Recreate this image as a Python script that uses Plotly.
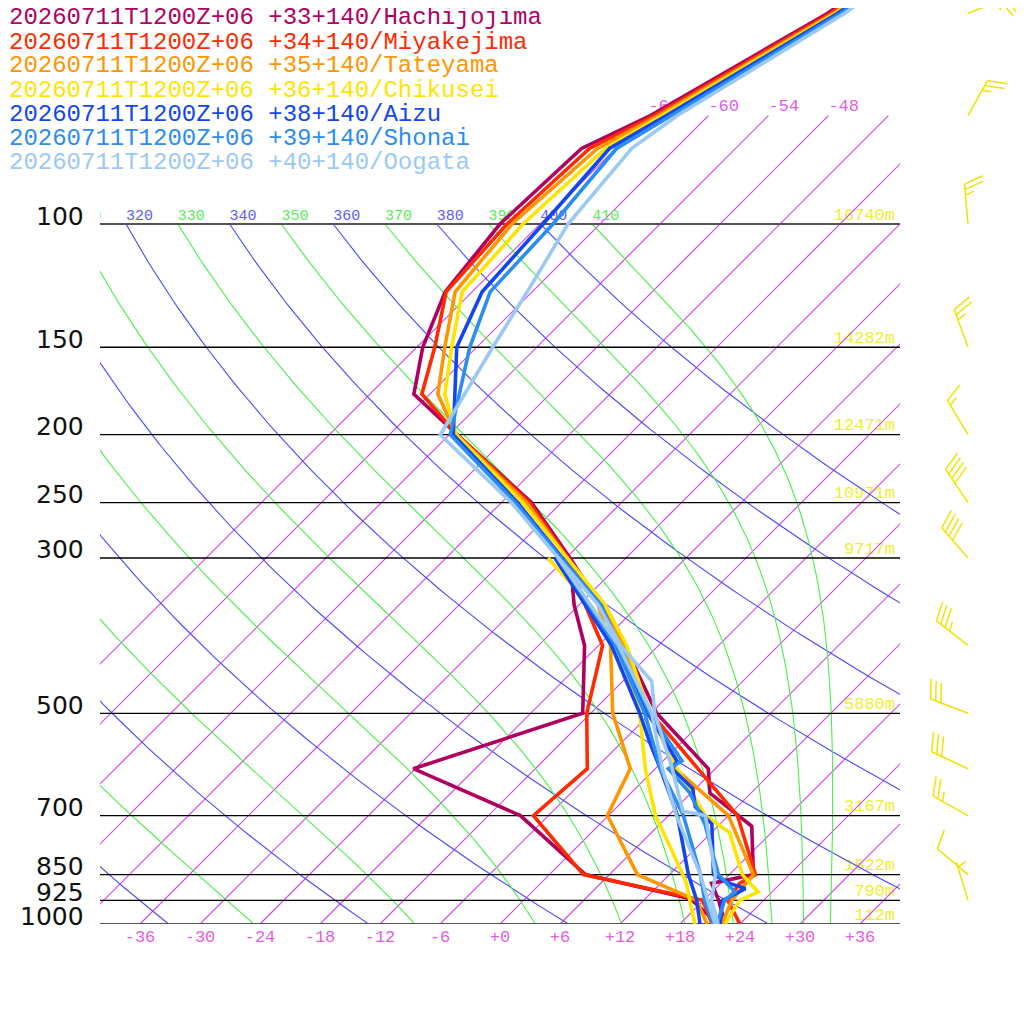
import numpy as np
import plotly.graph_objects as go

# ---- station meta --------------------------------------------------------
run_label = "20260711T1200Z+06"
stations = ["Hachijojima", "Miyakejima", "Tateyama", "Chikusei", "Aizu", "Shonai", "Oogata"]
positions = ["+33+140", "+34+140", "+35+140", "+36+140", "+38+140", "+39+140", "+40+140"]
colors = ["#b0005f", "#ff2a00", "#ff9600", "#ffe400", "#1446ee", "#2b8cf2", "#9cc9f4"]

# ---- temperature profiles (hPa, degC) -------------------------------------
p_t_hachijojima = [30, 50, 70, 78, 100, 125, 150, 175, 200, 250, 300, 350, 400, 500, 600, 650, 725, 850, 875, 925, 1000]
t_hachijojima = [-52.1, -58.3, -65.8, -69.4, -70.0, -68.7, -65.4, -61.6, -53.2, -39.0, -29.6,
                 -21.9, -15.4, -5.4, 5.3, 7.9, 15.4, 20.4, 17.1, 19.5, 22.5]
p_t_miyakejima = [30, 50, 70, 78, 100, 125, 150, 175, 200, 250, 300, 350, 400, 500, 560, 700, 850, 875, 925, 1000]
t_miyakejima = [-51.8, -58.0, -65.4, -68.6, -69.3, -68.6, -64.2, -60.8, -53.2, -39.2, -29.8,
                -21.6, -15.5, -6.0, 0.4, 12.9, 20.6, 19.9, 20.4, 24.0]
p_t_tateyama = [30, 50, 70, 78, 100, 125, 150, 175, 200, 250, 300, 350, 400, 500, 600, 700, 850, 925, 1000]
t_tateyama = [-51.5, -57.7, -65.0, -67.8, -68.8, -67.7, -63.2, -59.2, -53.3, -39.5, -29.9,
              -21.7, -15.6, -6.0, 2.0, 12.0, 20.4, 20.8, 22.2]
p_t_chikusei = [30, 50, 70, 78, 100, 125, 150, 175, 200, 250, 300, 350, 400, 500, 600, 700, 740, 850, 900, 925, 1000]
t_chikusei = [-51.3, -57.5, -64.6, -67.0, -67.7, -67.0, -62.5, -58.5, -53.3, -39.9, -29.9,
              -21.4, -15.2, -6.1, 2.2, 9.7, 13.8, 19.3, 22.6, 21.6, 22.5]
p_t_aizu = [30, 50, 70, 78, 100, 125, 150, 175, 200, 250, 300, 350, 400, 500, 585, 600, 640, 680, 720, 850, 875, 890, 925, 1000]
t_aizu = [-51.0, -57.3, -64.2, -66.6, -65.7, -65.0, -62.0, -57.5, -53.6, -40.4, -30.4,
          -21.9, -15.9, -6.3, 1.4, 1.7, 5.7, 7.8, 11.2, 16.4, 18.9, 21.0, 19.9, 22.0]
p_t_shonai = [30, 50, 70, 78, 100, 125, 150, 175, 200, 250, 300, 350, 400, 500, 585, 600, 650, 720, 850, 900, 925, 1000]
t_shonai = [-50.7, -57.0, -63.7, -65.9, -64.7, -64.2, -60.7, -57.1, -53.9, -40.6, -30.5,
            -21.8, -15.9, -6.1, 1.9, 1.3, 5.9, 10.5, 16.9, 20.3, 20.1, 21.7]
p_t_oogata = [30, 50, 70, 78, 100, 125, 150, 175, 200, 250, 300, 350, 400, 450, 500, 600, 690, 700, 850, 925, 1000]
t_oogata = [-50.3, -56.6, -63.1, -64.4, -63.2, -60.5, -58.4, -56.5, -54.9, -41.0, -30.8,
            -22.1, -15.8, -9.1, -5.6, 1.7, 7.0, 9.7, 16.6, 18.8, 21.8]

# ---- dew point profiles (hPa, degC) ---------------------------------------
p_td_hachijojima = [300, 350, 400, 500, 600, 700, 850, 920, 1000]
td_hachijojima = [-29.6, -24.5, -19.4, -12.8, -24.2, -8.8, 3.6, 16.5, 21.8]
p_td_miyakejima = [300, 350, 400, 500, 600, 700, 850, 925, 1000]
td_miyakejima = [-29.8, -23.4, -17.6, -12.4, -6.8, -7.5, 3.4, 17.9, 21.2]
p_td_tateyama = [300, 350, 400, 500, 600, 700, 850, 925, 1000]
td_tateyama = [-29.9, -22.1, -16.8, -9.8, -2.5, -0.1, 8.8, 17.3, 20.7]
p_td_chikusei = [300, 350, 400, 500, 600, 700, 790, 875, 925, 1000]
td_chikusei = [-31.8, -22.9, -15.9, -7.1, -1.0, 4.7, 10.1, 14.6, 16.6, 19.5]
p_td_aizu = [300, 350, 400, 500, 550, 600, 700, 850, 925, 1000]
td_aizu = [-31.1, -23.4, -16.7, -7.1, -3.2, 0.5, 6.9, 13.9, 17.3, 20.0]
p_td_shonai = [300, 400, 500, 600, 700, 850, 925, 1000]
td_shonai = [-30.8, -16.3, -6.6, 0.5, 7.5, 15.1, 18.1, 21.3]
p_td_oogata = [300, 400, 500, 600, 700, 850, 925, 1000]
td_oogata = [-30.8, -16.0, -5.9, 0.7, 6.8, 15.1, 18.4, 21.5]

# ---- winds (drawn as barbs on the right) ---------------------------------
wind_p = [50, 70, 100, 150, 200, 250, 300, 400, 500, 600, 700, 850, 925, 1000]
wind_dir = [69, 29, 355, 340, 329, 326, 319, 308, 291, 295, 299, 310, 343, 187]
wind_kt = [25, 25, 25, 25, 15, 40, 40, 35, 30, 30, 25, 10, 5, 5]

# ---- standard levels ------------------------------------------------------
std_p = [100, 150, 200, 250, 300, 500, 700, 850, 925, 1000]
std_height = ["16740m", "14282m", "12471m", "10971m", "9717m", "5880m", "3167m", "1522m", "790m", "112m"]

# ---- background guides ----------------------------------------------------
iso_t = list(range(-66, 37, 6))
iso_labels = [-66, -60, -54, -48]
dry_theta = list(range(240, 401, 20))
moist_theta = list(range(250, 411, 20))
tick_t = list(range(-36, 37, 6))

profiles = {
    "Hachijojima": (p_t_hachijojima, t_hachijojima, p_td_hachijojima, td_hachijojima),
    "Miyakejima": (p_t_miyakejima, t_miyakejima, p_td_miyakejima, td_miyakejima),
    "Tateyama": (p_t_tateyama, t_tateyama, p_td_tateyama, td_tateyama),
    "Chikusei": (p_t_chikusei, t_chikusei, p_td_chikusei, td_chikusei),
    "Aizu": (p_t_aizu, t_aizu, p_td_aizu, td_aizu),
    "Shonai": (p_t_shonai, t_shonai, p_td_shonai, td_shonai),
    "Oogata": (p_t_oogata, t_oogata, p_td_oogata, td_oogata),
}

SKEW = 70.0          # degC shift per decade of pressure
PX_DECADE = 700.0    # pixels per decade of pressure
KAPPA = 0.2857
MONO = "Liberation Mono"
OFF = 8              # page body margin of the browser
PLOT_H = 924 - OFF
ISO_COLOR = "#d24be6"


def skew_x(t, p):
    return np.asarray(t, float) + SKEW * np.log10(1000.0 / np.asarray(p, float))


def moist_lapse(p, t):
    es = 6.112 * np.exp(17.67 * (t - 273.15) / (t - 29.65))
    rs = 0.622 * es / (p - es)
    return (287.04 * t + 2.501e6 * rs) / (1005.7 + 2.501e6 ** 2 * rs * 0.622 / (287.04 * t * t)) / p


def moist_adiabat(theta_e, pg):
    t = theta_e * (pg[0] / 1000.0) ** KAPPA
    out = [t]
    for p0, p1 in zip(pg[:-1], pg[1:]):
        h = p1 - p0
        k1 = moist_lapse(p0, t)
        k2 = moist_lapse(p0 + h / 2, t + h / 2 * k1)
        k3 = moist_lapse(p0 + h / 2, t + h / 2 * k2)
        k4 = moist_lapse(p1, t + h * k3)
        t = t + h / 6 * (k1 + 2 * k2 + 2 * k3 + k4)
        out.append(t)
    return np.array(out) - 273.15


def joined(pieces):
    xs, ys = [], []
    for x, y in pieces:
        xs += [float(v) for v in x] + [None]
        ys += [float(v) for v in y] + [None]
    return xs, ys


fig = go.Figure()

# height labels (under everything)
fig.add_trace(go.Scatter(x=[39.5] * len(std_p), y=std_p, mode="text", text=std_height,
                         textposition="top left", textfont=dict(family=MONO, size=17, color="#eeee33")))

# isotherms, one trace each
for t in iso_t:
    fig.add_trace(go.Scatter(x=skew_x([t, t], [1000, 70]), y=[1000, 70], mode="lines",
                             line=dict(color=ISO_COLOR, width=1.2)))

# dry adiabats
pg = np.geomspace(100, 1000, 120)
xs, ys = joined([(skew_x(th * (pg / 1000.0) ** KAPPA - 273.15, pg), pg) for th in dry_theta])
fig.add_trace(go.Scatter(x=xs, y=ys, mode="lines", line=dict(color="rgb(72,72,255)", width=1.1)))

# pseudo-adiabats
xs, ys = joined([(skew_x(moist_adiabat(th, pg), pg), pg) for th in moist_theta])
fig.add_trace(go.Scatter(x=xs, y=ys, mode="lines", line=dict(color="rgb(70,240,70)", width=1.1)))

# isobars
for p in std_p:
    edge = p in (100, 1000)
    fig.add_trace(go.Scatter(x=[-40, 40], y=[p, p], mode="lines",
                             line=dict(color="#555555" if edge else "#000000", width=2 if edge else 1.3)))

# adiabat labels at 100 hPa
for ths, col in ((dry_theta, "#5a5aff"), (moist_theta, "#55ee55")):
    lab = [th for th in ths if th >= 310]
    fig.add_trace(go.Scatter(x=skew_x([th * 0.1 ** KAPPA - 273.15 for th in lab], [100] * len(lab)),
                             y=[100] * len(lab), mode="text", text=[str(th) for th in lab],
                             textposition="top right", textfont=dict(family=MONO, size=15, color=col)))

# isotherm labels at the top
fig.add_trace(go.Scatter(x=skew_x(iso_labels, [70] * len(iso_labels)), y=[70] * len(iso_labels),
                         mode="text", text=[str(t) for t in iso_labels], textposition="top right",
                         textfont=dict(family=MONO, size=17, color="#e060e0")))

# profiles
for name, col in zip(stations, colors):
    p_t, t, p_td, td = profiles[name]
    fig.add_trace(go.Scatter(x=skew_x(td, p_td), y=p_td, mode="lines", line=dict(color=col, width=3.6)))
    fig.add_trace(go.Scatter(x=skew_x(t, p_t), y=p_t, mode="lines", line=dict(color=col, width=3.6)))

# wind barbs (x2 is in pixels, y uses the pressure axis)
STAFF, FULL, HALF, GAP, X0 = 40.0, 20.0, 9.5, 5.5, 60.0 + OFF
pieces = []
for p0, wd, ws in zip(wind_p, wind_dir, wind_kt):
    a = np.radians(wd)
    u = np.array([np.sin(a), -np.cos(a)])
    b = np.radians(wd + 70)
    f = np.array([np.sin(b), -np.cos(b)])
    tip = STAFF * u
    segs = [(np.zeros(2), tip)]
    n_full, n_half = ws // 10, (ws % 10) // 5
    pos = 0.0 if n_full else GAP
    for k in range(n_full + n_half):
        base = tip - pos * u
        segs.append((base, base + (FULL if k < n_full else HALF) * f))
        pos += GAP
    for s, e in segs:
        pieces.append(([X0 + s[0], X0 + e[0]], [p0 * 10 ** (s[1] / PX_DECADE), p0 * 10 ** (e[1] / PX_DECADE)]))
xs, ys = joined(pieces)
fig.add_trace(go.Scatter(x=xs, y=ys, xaxis="x2", yaxis="y", mode="lines",
                         line=dict(color="#f2e200", width=1.5)))

# pressure labels on the left
annotations = []
for p in std_p:
    annotations.append(dict(x=(86 - OFF) / 1024, xref="paper", xanchor="right", y=np.log10(p), yref="y",
                            yanchor="middle", yshift=8, text=str(p), showarrow=False,
                            font=dict(family="DejaVu Sans", size=25, color="#111111")))

# legend block
for i, (name, pos, col) in enumerate(zip(stations, positions, colors)):
    annotations.append(dict(x=(7 - OFF) / 1024, xref="paper", xanchor="left",
                            y=1 - (18 + 24 * i - OFF) / PLOT_H,
                            yref="paper", yanchor="middle", showarrow=False,
                            text=f"{run_label} {pos}/{name}",
                            font=dict(family=MONO, size=24, color=col)))

fig.update_layout(
    width=1024, height=1024,
    margin=dict(l=0, r=0, t=0, b=1024 - PLOT_H),
    paper_bgcolor="white", plot_bgcolor="white",
    showlegend=False, hovermode=False,
    xaxis=dict(domain=[(100 - OFF) / 1024, (900 - OFF) / 1024], range=[-40, 40], anchor="y",
               showgrid=False, zeroline=False, showline=False, ticks="",
               tickvals=tick_t, ticktext=[f"{t:+d}" for t in tick_t],
               tickfont=dict(family=MONO, size=17, color="#e060e0")),
    xaxis2=dict(domain=[(900 - OFF) / 1024, 1.0], range=[0, 124 + OFF], anchor="y", visible=False),
    yaxis=dict(type="log", range=[3, 2 - (224 - OFF) / PX_DECADE], anchor="x",
               showgrid=False, zeroline=False, showticklabels=False, ticks=""),
    annotations=annotations,
)

fig.write_html("out.html")
